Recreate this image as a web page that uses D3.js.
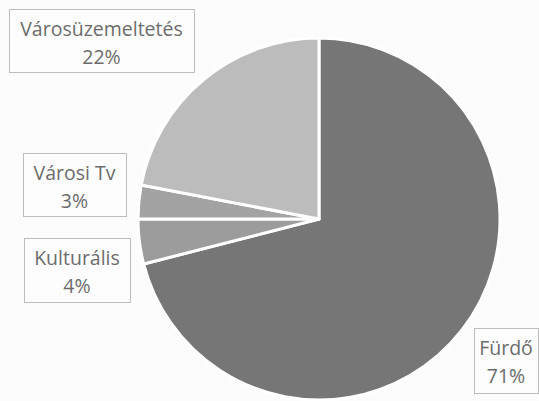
<!DOCTYPE html>
<html>
<head>
<meta charset="utf-8">
<script src="https://cdn.jsdelivr.net/npm/d3@7"></script>
<style>
  body { margin: 0; background: #fcfcfc; }
  svg { display: block; }
</style>
</head>
<body>
<div id="chart"></div>
<script>
    // data
    var categories = ["Fürdő", "Kulturális", "Városi Tv", "Városüzemeltetés"];
    var values = [71, 4, 3, 22];
    var colors = ["#767676", "#9c9c9c", "#a3a3a3", "#bcbcbc"];
    // label boxes (x, y, w, h)
    var boxes = [
        [474, 328, 64, 65],
        [24, 238, 106, 64],
        [23, 153, 103, 63],
        [9, 9, 185, 63]
    ];

    var svgWidth = 539;
    var svgHeight = 401;
    var cx = 319, cy = 219, radius = 181;

    var svg = d3.select("#chart")
        .append("svg")
        .attr("width", svgWidth)
        .attr("height", svgHeight);

    var data = categories.map((c, i) => ({ name: c, value: values[i], color: colors[i], box: boxes[i] }));

    var pie = d3.pie()
        .sort(null)
        .value(d => d.value);

    var arc = d3.arc()
        .innerRadius(0)
        .outerRadius(radius);

    var pieGroup = svg.append("g")
        .attr("transform", `translate(${cx}, ${cy})`);

    pieGroup.selectAll("path")
        .data(pie(data))
        .enter()
        .append("path")
        .attr("d", arc)
        .attr("fill", d => d.data.color)
        .attr("stroke", "#ffffff")
        .attr("stroke-width", 3)
        .attr("stroke-linejoin", "round");

    // labels in boxes
    var labels = svg.append("g").selectAll("g")
        .data(data)
        .enter()
        .append("g");

    labels.append("rect")
        .attr("x", d => d.box[0] + 0.5)
        .attr("y", d => d.box[1] + 0.5)
        .attr("width", d => d.box[2])
        .attr("height", d => d.box[3])
        .attr("fill", "#fdfdfd")
        .attr("stroke", "#bdbdbd")
        .attr("stroke-width", 1);

    labels.append("text")
        .attr("x", d => d.box[0] + d.box[2] / 2)
        .attr("y", d => d.box[1] + 27)
        .attr("text-anchor", "middle")
        .attr("font-family", "'Open Sans', sans-serif")
        .attr("font-size", 19.5)
        .attr("fill", "#6c6c6c")
        .text(d => d.name);

    labels.append("text")
        .attr("x", d => d.box[0] + d.box[2] / 2)
        .attr("y", d => d.box[1] + 55)
        .attr("text-anchor", "middle")
        .attr("font-family", "'Open Sans', sans-serif")
        .attr("font-size", 19.5)
        .attr("fill", "#6c6c6c")
        .text(d => d.value + "%");
</script>
</body>
</html>
